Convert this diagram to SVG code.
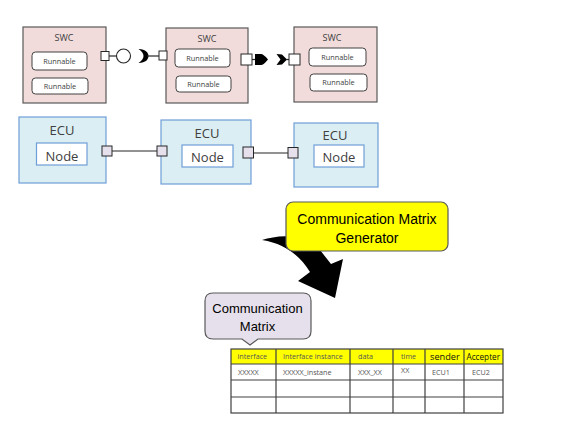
<svg xmlns="http://www.w3.org/2000/svg" width="576" height="430" viewBox="0 0 576 430">
<style>
.swc{fill:#F2DCDB;stroke:#595959;stroke-width:1.2}
.run{fill:#fff;stroke:#404040;stroke-width:1}
.ecu{fill:#DAEEF3;stroke:#6F9FD8;stroke-width:1.2}
.nodebox{fill:#fff;stroke:#6F9FD8;stroke-width:1.2}
.port{fill:#fff;stroke:#262626;stroke-width:1}
.eport{fill:#E6E0EC;stroke:#262626;stroke-width:1}
.ln{stroke:#262626;stroke-width:1.2;fill:none}
.t{font-family:"Open Sans","Liberation Sans",sans-serif;fill:#404040;text-anchor:middle}
.swct{font-size:9px}
.runt{font-size:7.3px}
.big{font-size:13px}
.cl{font-family:"Liberation Sans",Arial,sans-serif;fill:#000;text-anchor:middle}
.tb{fill:none;stroke:#404040;stroke-width:1.2}
.th{font-family:"Open Sans","Liberation Sans",sans-serif;font-size:7.2px;fill:#555}
.thb{font-family:"Open Sans","Liberation Sans",sans-serif;fill:#111}
</style>

<g id="swc1">
<rect class="swc" x="23" y="27" width="83" height="76"/>
<text class="t swct" x="64" y="40.5">SWC</text>
<rect class="run" x="32" y="52" width="55" height="18" rx="3.5"/>
<text class="t runt" x="59.5" y="63.5">Runnable</text>
<rect class="run" x="32" y="78" width="56" height="16" rx="3.5"/>
<text class="t runt" x="60" y="88.5">Runnable</text>
</g>

<g id="swc2">
<rect class="swc" x="166" y="28" width="82" height="75"/>
<text class="t swct" x="207" y="41.5">SWC</text>
<rect class="run" x="175" y="49" width="55" height="18" rx="3.5"/>
<text class="t runt" x="202.5" y="60.5">Runnable</text>
<rect class="run" x="176" y="76" width="55" height="16" rx="3.5"/>
<text class="t runt" x="203.5" y="86.5">Runnable</text>
</g>

<g id="swc3">
<rect class="swc" x="294" y="27" width="83" height="75"/>
<text class="t swct" x="332" y="40.5">SWC</text>
<rect class="run" x="309" y="48" width="57" height="18" rx="3.5"/>
<text class="t runt" x="337.5" y="59.5">Runnable</text>
<rect class="run" x="310" y="74" width="57" height="17" rx="3.5"/>
<text class="t runt" x="338.5" y="85">Runnable</text>
</g>

<g id="ecu1">
<rect class="ecu" x="19" y="117" width="87" height="66"/>
<text class="t big" x="62" y="135">ECU</text>
<rect class="nodebox" x="36.5" y="143" width="50.5" height="22"/>
<text class="t big" x="62" y="160.5">Node</text>
</g>

<g id="ecu2">
<rect class="ecu" x="161" y="120" width="90" height="64"/>
<text class="t big" x="207" y="137.5">ECU</text>
<rect class="nodebox" x="182" y="145" width="51" height="22"/>
<text class="t big" x="207.5" y="162">Node</text>
</g>

<g id="ecu3">
<rect class="ecu" x="294" y="123" width="84" height="64"/>
<text class="t big" x="335" y="140">ECU</text>
<rect class="nodebox" x="314" y="145" width="50" height="22"/>
<text class="t big" x="339" y="162">Node</text>
</g>

<g id="connectors">
<line class="ln" x1="109" y1="56" x2="116.5" y2="56"/>
<circle cx="123.5" cy="56" r="7" fill="#fff" stroke="#262626" stroke-width="1.1"/>
<path d="M138.5,49 C146,49 148.5,53 148.5,56 C148.5,59 146,63 138.5,63 C142,60.5 143.5,58.5 143.5,56 C143.5,53.5 142,51.5 138.5,49 Z" fill="#000"/>
<line class="ln" x1="147" y1="56" x2="159" y2="56"/>
<rect class="port" x="101" y="51.5" width="8" height="9"/>
<rect class="port" x="159" y="51" width="8" height="9"/>
<line class="ln" x1="252" y1="59.5" x2="256" y2="59.5"/>
<path d="M255,54 H261 Q263.5,54 268,59.5 Q263.5,65 261,65 H255 Z" fill="#000"/>
<path d="M276.5,54 L282,54.5 L287,59.5 L282,64.5 L276.5,65 L280.5,59.5 Z" fill="#000"/>
<line class="ln" x1="286" y1="59.5" x2="289" y2="59.5"/>
<rect class="port" x="241" y="54" width="11" height="11"/>
<rect class="port" x="289" y="54" width="11" height="11"/>
<line class="ln" x1="112" y1="151" x2="157" y2="151"/>
<rect class="eport" x="102" y="146" width="10" height="10"/>
<rect class="eport" x="157" y="146" width="10" height="10"/>
<line class="ln" x1="253" y1="153" x2="288" y2="153"/>
<rect class="eport" x="243" y="147" width="10.5" height="11"/>
<rect class="eport" x="288" y="147.5" width="10" height="10.5"/>
<path d="M262,240 C278,235 302,232 320,250 L331,264 L343,259 L335,298 L298,281 L310,272 C300,256 286,244 262,240 Z" fill="#000"/>
</g>

<g id="generator">
<rect x="286" y="202" width="162" height="49" rx="7" fill="#FFFF00" stroke="#595959" stroke-width="1.2"/>
<text class="cl" x="367" y="223.5" font-size="14">Communication Matrix</text>
<text class="cl" x="367" y="243" font-size="14">Generator</text>
</g>

<g id="matrix-callout">
<path d="M213,293 H303 Q311,293 311,301 V331 Q311,339 303,339 H258 L250,345 L242,339 H213 Q205,339 205,331 V301 Q205,293 213,293 Z" fill="#E6E0EC" stroke="#595959" stroke-width="1.2"/>
<text class="cl" x="257.5" y="312.5" font-size="13">Communication</text>
<text class="cl" x="257.5" y="330.5" font-size="13">Matrix</text>
</g>

<g id="table">
<rect x="231" y="349" width="272" height="15" fill="#FFFF00"/>
<rect class="tb" x="231" y="349" width="272" height="64"/>
<line class="tb" x1="231" y1="364" x2="503" y2="364"/>
<line class="tb" x1="231" y1="380" x2="503" y2="380"/>
<line class="tb" x1="231" y1="397" x2="503" y2="397"/>
<line class="tb" x1="276" y1="349" x2="276" y2="413"/>
<line class="tb" x1="350" y1="349" x2="350" y2="413"/>
<line class="tb" x1="393" y1="349" x2="393" y2="413"/>
<line class="tb" x1="425" y1="349" x2="425" y2="413"/>
<line class="tb" x1="464" y1="349" x2="464" y2="413"/>
<text class="th" x="237.5" y="359">interface</text>
<text class="th" x="283" y="359">Interface instance</text>
<text class="th" x="358" y="359">data</text>
<text class="th" x="401" y="359">time</text>
<text class="thb" x="430" y="359.5" font-size="9.2">sender</text>
<text class="thb" x="466.5" y="359.5" font-size="8.2">Accepter</text>
<text class="th" x="238" y="375">XXXXX</text>
<text class="th" x="283" y="375">XXXXX_instane</text>
<text class="th" x="358" y="375">XXX_XX</text>
<text class="th" x="401" y="373">XX</text>
<text class="th" x="432" y="375">ECU1</text>
<text class="th" x="472" y="375">ECU2</text>
</g>
</svg>
